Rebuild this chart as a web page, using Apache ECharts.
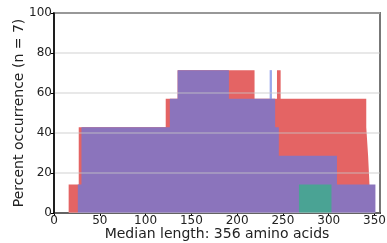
<!DOCTYPE html>
<html>
<head>
<meta charset="utf-8">
<script src="https://cdn.jsdelivr.net/npm/echarts@6/dist/echarts.min.js"></script>
<style>
  html, body { margin: 0; padding: 0; background: #fff; }
  #chart { width: 387px; height: 243px; }
</style>
</head>
<body>
<div id="chart"></div>
<script>
  // step breakpoints: level holds from x[i] to x[i+1]
  var redX = [16, 27, 122, 135, 219, 243.5, 247.5, 341, 343, 344.5, 346];
  var redY = [14.29, 42.86, 57.14, 71.43, 57.14, 71.43, 57.14, 42.86, 28.57, 14.29, 0];
  var blueX = [235.5, 238];
  var blueY = [71.43, 0];
  var purpleX = [26, 30, 126.5, 135, 191, 241.5, 245.5, 309, 351];
  var purpleY = [14.29, 42.86, 57.14, 71.43, 57.14, 42.86, 28.57, 14.29, 0];
  var greenX = [267.5, 303];
  var greenY = [14.29, 0];

  var xTicks = [0, 50, 100, 150, 200, 250, 300, 350];
  var yTicks = [0, 20, 40, 60, 80, 100];

  function pairs(xs, ys) {
    return xs.map(function(x, i) { return [x, ys[i]]; });
  }

  function stepSeries(xs, ys, color) {
    return {
      type: 'line',
      step: 'end',
      data: pairs(xs, ys),
      showSymbol: false,
      lineStyle: { width: 0 },
      areaStyle: { color: color, opacity: 1 },
      silent: true
    };
  }

  var chart = echarts.init(document.getElementById('chart'));
  var font = 'DejaVu Sans';

  chart.setOption({
    animation: false,
    grid: {
      left: 54, right: 7, top: 13, bottom: 30,
      outerBoundsMode: 'none',
      containLabel: false,
      show: true, borderColor: '#777', borderWidth: 2
    },
    xAxis: {
      type: 'value',
      min: 0, max: 356, interval: 50,
      name: 'Median length: 356 amino acids',
      nameLocation: 'middle',
      nameMoveOverlap: false,
      nameGap: 14,
      nameTextStyle: { fontFamily: font, fontSize: 14, color: '#222' },
      axisLine: { show: true, onZero: false, lineStyle: { color: '#000', width: 1.5 } },
      axisTick: { show: true, length: 3, lineStyle: { color: '#000' } },
      splitLine: { show: false },
      axisLabel: {
        fontFamily: font, fontSize: 12, color: '#222', margin: 2,
        showMaxLabel: false,
        formatter: function(v) { return xTicks.indexOf(v) >= 0 ? v : ''; }
      }
    },
    yAxis: {
      type: 'value',
      z: 5,
      min: 0, max: 100, interval: 20,
      name: 'Percent occurrence (n = 7)',
      nameLocation: 'middle',
      nameMoveOverlap: false,
      nameGap: 28,
      nameTextStyle: { fontFamily: font, fontSize: 14, color: '#222' },
      axisLine: { show: true, lineStyle: { color: '#000', width: 1.5 } },
      axisTick: { show: true, length: 3, lineStyle: { color: '#000' } },
      splitLine: { show: true, lineStyle: { color: 'rgba(200,200,200,0.55)', width: 1.5 } },
      axisLabel: {
        fontFamily: font, fontSize: 12, color: '#222', margin: 2,
        formatter: function(v) { return yTicks.indexOf(v) >= 0 ? v : ''; }
      }
    },
    series: [
      stepSeries(redX, redY, '#e46464'),
      stepSeries(blueX, blueY, '#9aa8ec'),
      stepSeries(purpleX, purpleY, '#8b74bc'),
      stepSeries(greenX, greenY, '#4aa394')
    ]
  });
</script>
</body>
</html>
